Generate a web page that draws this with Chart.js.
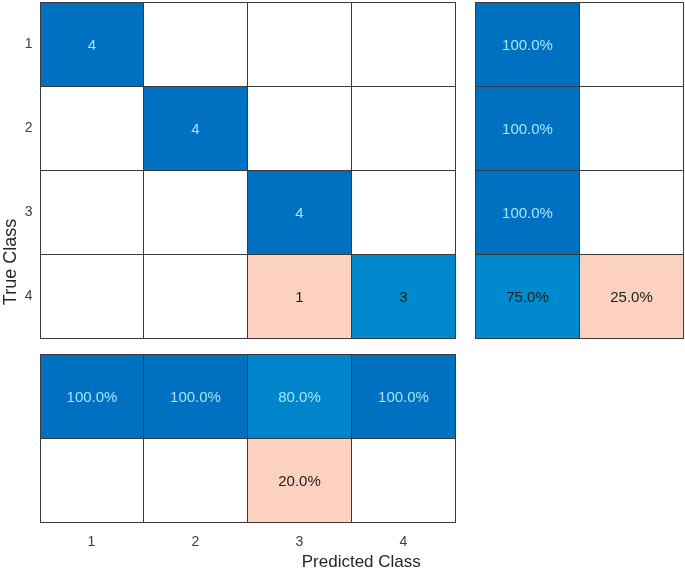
<!DOCTYPE html>
<html>
<head>
<meta charset="utf-8">
<script src="https://cdn.jsdelivr.net/npm/chart.js@4/dist/chart.umd.min.js"></script>
<style>
  html, body { margin: 0; padding: 0; background: #ffffff; }
  #wrap { width: 685px; height: 573px; }
</style>
</head>
<body>
<div id="wrap"><canvas id="c" width="685" height="573"></canvas></div>
<script>
// ---- data ----
const classes = ['1', '2', '3', '4'];
const counts = [
  [4, 0, 0, 0],
  [0, 4, 0, 0],
  [0, 0, 4, 0],
  [0, 0, 1, 3]
];
// row summary (true-class recall / miss rate, %)
const rowCorrect = [100.0, 100.0, 100.0, 75.0];
const rowWrong   = [0.0, 0.0, 0.0, 25.0];
// column summary (precision / false discovery rate, %)
const colCorrect = [100.0, 100.0, 80.0, 100.0];
const colWrong   = [0.0, 0.0, 20.0, 0.0];
const xTitle = 'Predicted Class';
const yTitle = 'True Class';

// ---- styles ----
const FONT = '"Liberation Sans", Arial, Helvetica, sans-serif';
const GAP = 0.19;             // gap between main matrix and summaries (in cell units)
const N = classes.length;
const EXT = N + GAP + 2;      // total extent of axes in cell units

function blue(v) {            // v in (0,1]
  const t = Math.max(0, Math.min(1, (1 - v) / 0.4));
  const r = 0, g = Math.round(112 + (154 - 112) * t), b = Math.round(192 + (214 - 192) * t);
  return `rgb(${r},${g},${b})`;
}
const SALMON = 'rgb(252,209,192)';
const LIGHT_TXT = '#a6e4fb';
const DARK_TXT = '#1e1e1e';

const cellPlugin = {
  id: 'cells',
  afterDraw(chart) {
    const ctx = chart.ctx;
    const xs = chart.scales.x, ys = chart.scales.y;
    function cell(x0, y0, fill, text, txtColor) {
      const px0 = Math.round(xs.getPixelForValue(x0)) + 0.5;
      const px1 = Math.round(xs.getPixelForValue(x0 + 1)) + 0.5;
      const py0 = Math.round(ys.getPixelForValue(y0)) + 0.5;
      const py1 = Math.round(ys.getPixelForValue(y0 + 1)) + 0.5;
      ctx.save();
      ctx.fillStyle = fill;
      ctx.fillRect(px0, py0, px1 - px0, py1 - py0);
      ctx.strokeStyle = '#3a3a3a';
      ctx.lineWidth = 1;
      ctx.strokeRect(px0, py0, px1 - px0, py1 - py0);
      if (text) {
        ctx.fillStyle = txtColor;
        ctx.font = '15px ' + FONT;
        ctx.textAlign = 'center';
        ctx.textBaseline = 'middle';
        ctx.fillText(text, (px0 + px1) / 2, (py0 + py1) / 2 + 1);
      }
      ctx.restore();
    }
    const maxC = Math.max(...counts.flat());
    // main matrix
    for (let r = 0; r < N; r++) {
      for (let c = 0; c < N; c++) {
        const v = counts[r][c];
        let fill = '#ffffff', txt = '', col = DARK_TXT;
        if (v > 0) {
          txt = String(v);
          if (r === c) {
            const f = v / maxC;
            fill = blue(f);
            col = f > 0.77 ? LIGHT_TXT : DARK_TXT;
          } else {
            fill = SALMON;
          }
        }
        cell(c, r, fill, txt, col);
      }
    }
    // row summary (right)
    for (let r = 0; r < N; r++) {
      const a = rowCorrect[r], b = rowWrong[r];
      cell(N + GAP, r, a > 0 ? blue(a / 100) : '#ffffff', a > 0 ? a.toFixed(1) + '%' : '', a / 100 > 0.77 ? LIGHT_TXT : DARK_TXT);
      cell(N + GAP + 1, r, b > 0 ? SALMON : '#ffffff', b > 0 ? b.toFixed(1) + '%' : '', DARK_TXT);
    }
    // column summary (bottom)
    for (let c = 0; c < N; c++) {
      const a = colCorrect[c], b = colWrong[c];
      cell(c, N + GAP, a > 0 ? blue(a / 100) : '#ffffff', a > 0 ? a.toFixed(1) + '%' : '', a / 100 > 0.77 ? LIGHT_TXT : DARK_TXT);
      cell(c, N + GAP + 1, b > 0 ? SALMON : '#ffffff', b > 0 ? b.toFixed(1) + '%' : '', DARK_TXT);
    }
  }
};

const centerTicks = classes.map((c, i) => ({ value: i + 0.5 }));

new Chart(document.getElementById('c'), {
  type: 'scatter',
  data: { datasets: [{ data: [], pointRadius: 0 }] },
  plugins: [cellPlugin],
  options: {
    responsive: false,
    animation: false,
    events: [],
    layout: { padding: { top: 2, right: 2, left: 0, bottom: 0 } },
    plugins: { legend: { display: false }, tooltip: { enabled: false } },
    scales: {
      x: {
        type: 'linear', min: 0, max: EXT,
        grid: { display: false, drawTicks: false },
        border: { display: false },
        afterBuildTicks: s => { s.ticks = centerTicks.map(t => ({ value: t.value })); },
        afterFit: s => { s.height = 51; s.paddingLeft = 0; s.paddingRight = 0; },
        ticks: {
          padding: 12, maxRotation: 0, autoSkip: false,
          color: '#404040', font: { family: FONT, size: 14 },
          callback: v => classes[Math.round(v - 0.5)]
        },
        title: { display: true, text: xTitle, color: '#262626', font: { family: FONT, size: 17 }, padding: { top: 0, bottom: 0 } }
      },
      y: {
        type: 'linear', min: 0, max: EXT, reverse: true,
        grid: { display: false, drawTicks: false },
        border: { display: false },
        afterBuildTicks: s => { s.ticks = centerTicks.map(t => ({ value: t.value })); },
        afterFit: s => { s.width = 39.5; s.paddingTop = 0; s.paddingBottom = 0; },
        ticks: {
          padding: 7, autoSkip: false,
          color: '#404040', font: { family: FONT, size: 14 },
          callback: v => classes[Math.round(v - 0.5)]
        },
        title: { display: true, text: yTitle, color: '#262626', font: { family: FONT, size: 18 }, padding: { top: 0, bottom: 0 } }
      }
    }
  }
});
</script>
</body>
</html>
